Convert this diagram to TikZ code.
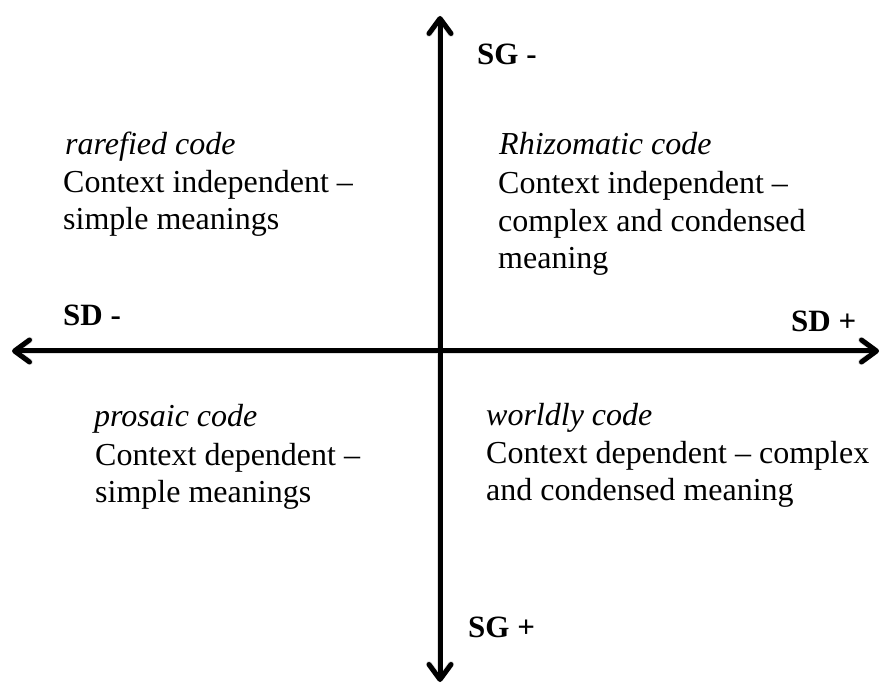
\documentclass[tikz,border=0pt]{standalone}
\usepackage{fontspec}
\setmainfont{Liberation Serif}
\usetikzlibrary{arrows.meta}
\tikzset{
  axis/.style={line width=5pt, {Straight Barb[length=15pt,width=22pt,round]}-{Straight Barb[length=15pt,width=22pt,round]}},
  axshadow/.style={axis, draw=black!12, line width=6pt},
  axlabel/.style={anchor=base west, inner sep=0pt, font=\fontsize{31}{35}\selectfont\bfseries},
  body/.style={anchor=base west, inner sep=0pt, font=\fontsize{32}{37}\selectfont},
  head/.style={body, font=\fontsize{32}{37}\selectfont\itshape},
}
\begin{document}
\begin{tikzpicture}[x=1pt,y=-1pt]
\useasboundingbox (0,0) rectangle (881,684);
\coordinate (W) at (12,351);
\coordinate (E) at (879,351);
\coordinate (N) at (440,16);
\coordinate (S) at (440,682);
\begin{scope}[shift={(2,3)}]
\draw[axshadow] (W) -- (E);
\draw[axshadow] (N) -- (S);
\end{scope}
\draw[axis] (W) -- (E);
\draw[axis] (N) -- (S);

\node[axlabel] (sgm) at (477,65) {SG -};
\node[axlabel] (sgp) at (468,637) {SG +};
\node[axlabel] (sdm) at (63,326) {SD -};
\node[axlabel] (sdp) at (791,332) {SD +};

\node[head] (rh) at (65,155) {rarefied code};
\node[body] (r1) at (63,193) {Context independent –};
\node[body] (r2) at (63,230) {simple meanings};

\node[head] (zh) at (499,155) {Rhizomatic code};
\node[body] (z1) at (498,194) {Context independent –};
\node[body] (z2) at (498,232) {complex and condensed};
\node[body] (z3) at (498,269) {meaning};

\node[head] (ph) at (94,427) {prosaic code};
\node[body] (p1) at (95,465) {Context dependent –};
\node[body] (p2) at (95,502) {simple meanings};

\node[head] (wh) at (486,425) {worldly code};
\node[body] (w1) at (486,463) {Context dependent – complex};
\node[body] (w2) at (486,500) {and condensed meaning};
\end{tikzpicture}
\end{document}
